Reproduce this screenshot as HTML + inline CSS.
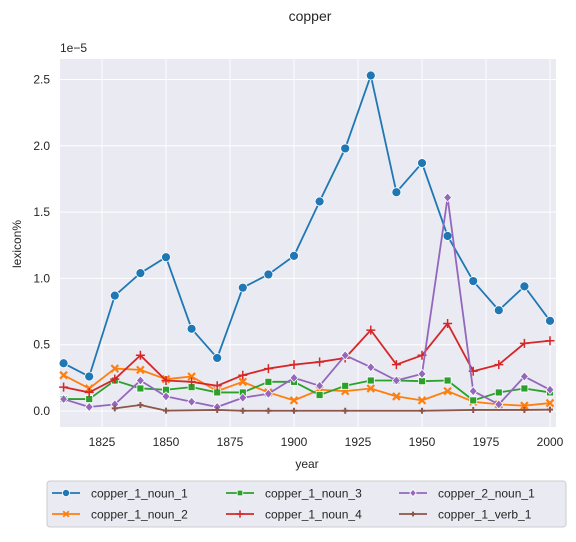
<!DOCTYPE html>
<html><head><meta charset="utf-8"><style>
body{margin:0;background:#fff;font-family:"Liberation Sans",Arial,sans-serif;}
svg text{font-family:"Liberation Sans",Arial,sans-serif;fill:#262626;}
</style></head><body>
<svg id="chart" width="576" height="537" xmlns="http://www.w3.org/2000/svg">
<text x="310" y="21" font-size="14" text-anchor="middle">copper</text>
<rect x="60" y="59" width="496" height="368" fill="#eaeaf2"/>
<g id="grid"></g>
<g id="series"></g>
<text x="60" y="52" font-size="12">1e−5</text>
<text transform="translate(21,244) rotate(-90)" font-size="12" text-anchor="middle">lexicon%</text>
<text x="307" y="468" font-size="12" text-anchor="middle">year</text>
<g id="legend">
<rect x="47" y="481" width="519" height="46" rx="3" fill="#eaeaf2" stroke="#cccccc"/>
</g>
</svg>
<script>
const years=[1810,1820,1830,1840,1850,1860,1870,1880,1890,1900,1910,1920,1930,1940,1950,1960,1970,1980,1990,2000];
const noun1=[0.36,0.26,0.87,1.04,1.16,0.62,0.40,0.93,1.03,1.17,1.58,1.98,2.53,1.65,1.87,1.32,0.98,0.76,0.94,0.68];
const noun2=[0.27,0.17,0.32,0.31,0.24,0.26,0.15,0.22,0.14,0.08,0.16,0.15,0.17,0.11,0.08,0.15,0.07,0.05,0.04,0.06];
const noun3=[0.09,0.09,0.23,0.17,0.16,0.18,0.14,0.14,0.22,0.22,0.12,0.19,0.23,0.23,0.225,0.23,0.08,0.14,0.17,0.14];
const noun4=[0.18,0.14,0.24,0.42,0.23,0.22,0.19,0.27,0.32,0.35,0.37,0.40,0.61,0.35,0.42,0.66,0.30,0.35,0.51,0.53];
const noun21=[0.09,0.03,0.05,0.23,0.11,0.07,0.03,0.10,0.13,0.25,0.19,0.42,0.33,0.23,0.28,1.61,0.15,0.05,0.26,0.16];
const verbYears=[1830,1840,1850,1870,1880,1890,1900,1920,1950,1970,1990,2000];
const verb1=[0.02,0.045,0.003,0.008,0.002,0.002,0.002,0.002,0.002,0.008,0.008,0.01];
const xTicks=[1825,1850,1875,1900,1925,1950,1975,2000];
const yTicks=[0,0.5,1.0,1.5,2.0,2.5];
const yTickLabels=["0.0","0.5","1.0","1.5","2.0","2.5"];
const NS="http://www.w3.org/2000/svg";
const X=v=>294+(v-1900)*2.56;
const Y=v=>411-v*132.6;
function mk(t,a,p){const e=document.createElementNS(NS,t);for(const k in a)e.setAttribute(k,a[k]);p.appendChild(e);return e;}
const grid=document.getElementById('grid'),svg=document.getElementById('chart');
xTicks.forEach(t=>{
 const l=mk('line',{x1:X(t),x2:X(t),y1:59,y2:427,stroke:'#fff','stroke-width':1},grid);
 
 
 const tx=mk('text',{x:X(t),y:446,'font-size':12,'text-anchor':'middle'},svg);tx.textContent=t;
 
 
});
yTicks.forEach((t,i)=>{
 const l=mk('line',{x1:60,x2:556,y1:Y(t),y2:Y(t),stroke:'#fff','stroke-width':1},grid);
 
 
 const tx=mk('text',{x:50,y:Y(t)+4,'font-size':12,'text-anchor':'end'},svg);tx.textContent=yTickLabels[i];
 
 
});
function marker(type,x,y,c,g,s){
 s=s||1;
 if(type==='o')return mk('circle',{cx:x,cy:y,r:4.5*s,fill:c,stroke:'#fff','stroke-width':0.8},g);
 if(type==='s')return mk('rect',{x:x-3.5*s,y:y-3.5*s,width:7*s,height:7*s,fill:c,stroke:'#fff','stroke-width':0.8},g);
 if(type==='d')return mk('path',{d:`M${x} ${y-4.5*s}L${x+4*s} ${y}L${x} ${y+4.5*s}L${x-4*s} ${y}Z`,fill:c,stroke:'#fff','stroke-width':0.8},g);
 if(type==='x')return mk('path',{d:`M${x-3.5*s} ${y-3.5*s}L${x+3.5*s} ${y+3.5*s}M${x+3.5*s} ${y-3.5*s}L${x-3.5*s} ${y+3.5*s}`,stroke:c,'stroke-width':2.2*s},g);
 if(type==='+')return mk('path',{d:`M${x-4.5*s} ${y}L${x+4.5*s} ${y}M${x} ${y-4.5*s}L${x} ${y+4.5*s}`,stroke:c,'stroke-width':1.5},g);
 if(type==='p')return mk('path',{d:`M${x-3*s} ${y}L${x+3*s} ${y}M${x} ${y-3*s}L${x} ${y+3*s}`,stroke:c,'stroke-width':2},g);
}
const ser=document.getElementById('series');
const defs=[
 ['copper_1_noun_1','#1f77b4',years,noun1,'o','series-copper-1-noun-1'],
 ['copper_1_noun_2','#ff7f0e',years,noun2,'x','series-copper-1-noun-2'],
 ['copper_1_noun_3','#2ca02c',years,noun3,'s','series-copper-1-noun-3'],
 ['copper_1_noun_4','#d62728',years,noun4,'+','series-copper-1-noun-4'],
 ['copper_2_noun_1','#9467bd',years,noun21,'d','series-copper-2-noun-1'],
 ['copper_1_verb_1','#8c564b',verbYears,verb1,'p','series-copper-1-verb-1']
];
defs.forEach(d=>{
 const g=mk('g',{},ser);
 
 
 const pts=d[2].map((yr,i)=>X(yr)+','+Y(d[3][i])).join(' ');
 mk('polyline',{points:pts,fill:'none',stroke:d[1],'stroke-width':1.8,'stroke-linejoin':'round'},g);
 d[2].forEach((yr,i)=>{
  const m=marker(d[4],X(yr),Y(d[3][i]),d[1],g);
  
  
 });
});
const leg=document.getElementById('legend');
const lpos=[[52,493],[52,514],[226,493],[226,514],[399,493],[399,514]];
defs.forEach((d,i)=>{
 const [x,y]=lpos[i];
 const g=mk('g',{},leg);
 
 
 mk('line',{x1:x,x2:x+28,y1:y,y2:y,stroke:d[1],'stroke-width':1.8},g);
 marker(d[4],x+14,y,d[1],g,0.8);
 const t=mk('text',{x:x+39,y:y+4.5,'font-size':12},g);t.textContent=d[0];
});
</script>
</body></html>
